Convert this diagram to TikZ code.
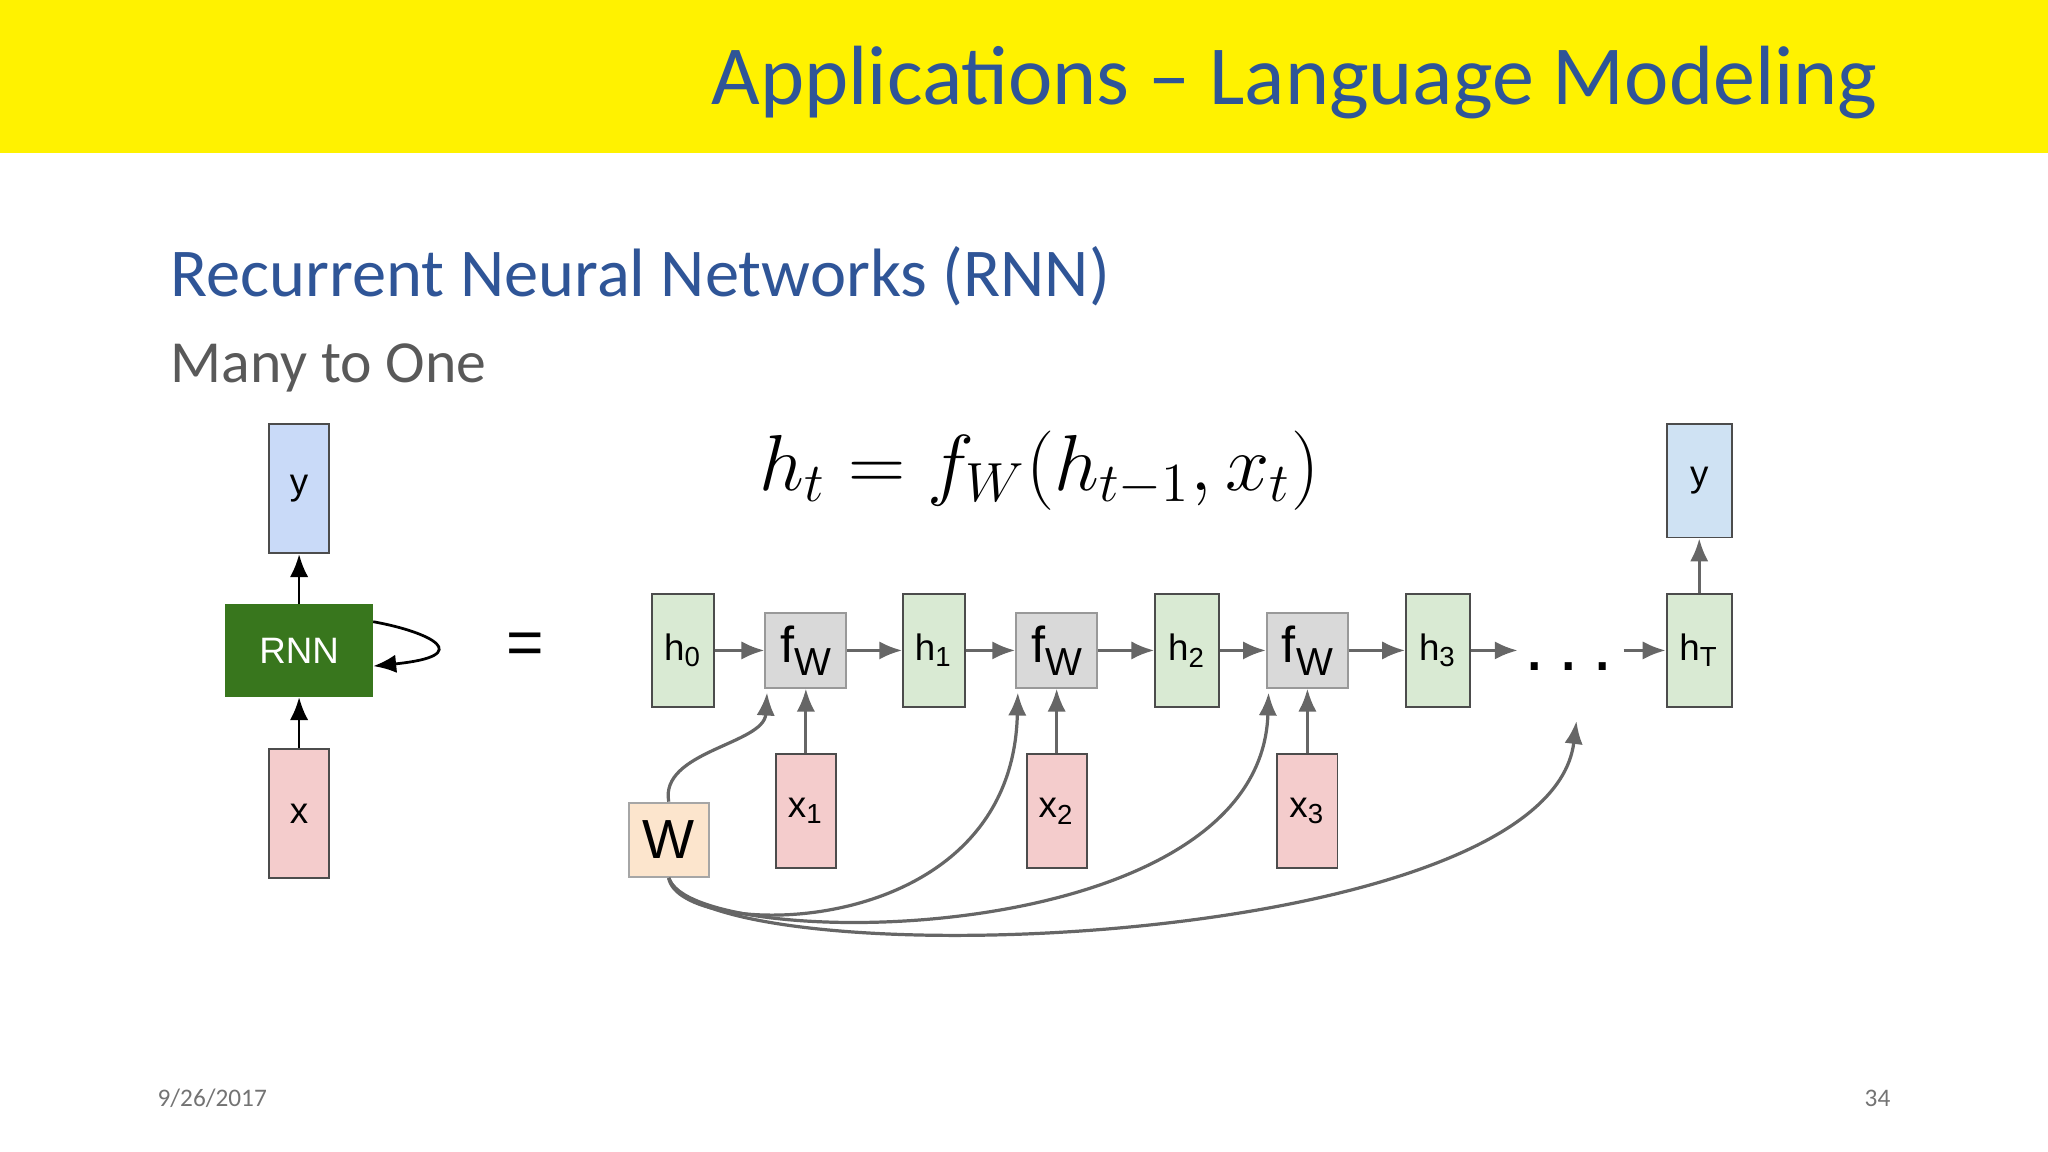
\documentclass[tikz,border=0pt]{standalone}
\usepackage{fontspec}
\setmainfont{Carlito}
\newfontfamily\diagfont{Liberation Sans}
\usetikzlibrary{positioning,arrows.meta,calc}
\definecolor{titleblue}{HTML}{2F5597}
\definecolor{hgreen}{HTML}{D9EAD3}
\definecolor{xpink}{HTML}{F4CCCC}
\definecolor{fgrey}{HTML}{D9D9D9}
\definecolor{wpeach}{HTML}{FCE5CD}
\definecolor{yblue}{HTML}{C9DAF8}
\definecolor{yblue2}{HTML}{CFE2F3}
\definecolor{rnngreen}{HTML}{38761D}
\definecolor{linegrey}{HTML}{666666}
\tikzset{
  box/.style={draw=black!70,line width=0.4pt,inner sep=0pt,font=\diagfont\fontsize{8}{9}\selectfont},
  hbox/.style={box,fill=hgreen,minimum width=0.47cm,minimum height=0.87cm},
  xbox/.style={box,fill=xpink,minimum width=0.46cm,minimum height=0.87cm},
  fbox/.style={box,fill=fgrey,draw=black!40,minimum width=0.62cm,minimum height=0.57cm},
  flow/.style={-{Latex[length=5pt,width=4pt]},linegrey,line width=0.7pt},
  wire/.style={-{Latex[length=5pt,width=4pt]},linegrey,line width=0.7pt},
}
\newcommand{\fw}{\fontsize{11}{11}\selectfont f\raisebox{-0.5ex}{\fontsize{8.5}{9}\selectfont W}}
\begin{document}
\begin{tikzpicture}[x=0.01cm,y=-0.01cm]
  \useasboundingbox (0,0) rectangle (1568,882);
  \fill[yellow] (0,0) rectangle (1568,117);
  \node[anchor=base east,text=titleblue,font=\fontsize{18.3}{22}\selectfont] (title) at (1450,80) {Applications -- Language Modeling};
  \node[anchor=base west,inner sep=0pt,text=titleblue,font=\fontsize{14.9}{18}\selectfont] (sub) at (130,227) {Recurrent Neural Networks (RNN)};
  \node[anchor=base west,inner sep=0pt,text=black!65,font=\fontsize{13}{16}\selectfont] (many) at (130,293) {Many to One};
  \node[anchor=base west,inner sep=0pt,text=black!55,font=\fontsize{5.5}{6}\selectfont] (date) at (120,847) {9/26/2017};
  \node[anchor=base east,inner sep=0pt,text=black!55,font=\fontsize{5.5}{6}\selectfont] (page) at (1448,847) {34};

  % folded network
  \node[box,fill=yblue,minimum width=0.46cm,minimum height=0.99cm] (yl) at (229,374) {y};
  \node[box,fill=rnngreen,draw=rnngreen,text=white,minimum width=1.12cm,minimum height=0.70cm] (rnn) at (229,498) {RNN};
  \node[xbox,minimum height=0.99cm] (xl) at (229,623) {x};
  \draw[-{Latex[length=5pt,width=4pt]},line width=0.6pt] (rnn) -- (yl);
  \draw[-{Latex[length=5pt,width=4pt]},line width=0.6pt] (xl) -- (rnn);
  \draw[-{Latex[length=5pt,width=4pt]},line width=0.6pt] ($(rnn.east)+(0,-22)$) .. controls (330,484) and (365,502) .. ($(rnn.east)+(0,12)$);
  \node[font=\diagfont\fontsize{14}{14}\selectfont] (eq) at (402,497) {=};

  % unrolled network
  \node[font=\fontsize{17.4}{20}\selectfont] (formula) at (796,360) {$h_t = f_W(h_{t-1}, x_t)$};
  \node[hbox] (h0) at (523,498) {h\textsubscript{0}};
  \node[fbox] (f1) at (617,498) {\fw};
  \node[hbox] (h1) at (715,498) {h\textsubscript{1}};
  \node[fbox] (f2) at (809,498) {\fw};
  \node[hbox,minimum width=0.49cm] (h2) at (909,498) {h\textsubscript{2}};
  \node[fbox] (f3) at (1001,498) {\fw};
  \node[hbox,minimum width=0.49cm] (h3) at (1101,498) {h\textsubscript{3}};
  \node[font=\diagfont\fontsize{16}{16}\selectfont] (dots) at (1201,510) {.\hspace{3pt}.\hspace{3pt}.};
  \node[hbox,minimum width=0.50cm] (hT) at (1301,498) {h\textsubscript{T}};
  \node[box,fill=yblue2,minimum width=0.50cm,minimum height=0.87cm] (yr) at (1301,368) {y};
  \node[xbox] (x1) at (617,621) {x\textsubscript{1}};
  \node[xbox] (x2) at (809,621) {x\textsubscript{2}};
  \node[xbox] (x3) at (1001,621) {x\textsubscript{3}};
  \node[box,fill=wpeach,draw=black!35,minimum width=0.61cm,minimum height=0.57cm,font=\diagfont\fontsize{12}{12}\selectfont] (W) at (512,643) {W};
  \coordinate (dotsin) at (1162,498);
  \coordinate (dotsout) at (1243,498);
  \coordinate (dotsw) at (1207,552);

  \draw[flow] (h0) -- (f1);
  \draw[flow] (f1) -- (h1);
  \draw[flow] (h1) -- (f2);
  \draw[flow] (f2) -- (h2);
  \draw[flow] (h2) -- (f3);
  \draw[flow] (f3) -- (h3);
  \draw[flow] (h3) -- (dotsin);
  \draw[flow] (dotsout) -- (hT);
  \draw[flow] (hT) -- (yr);
  \draw[flow] (x1) -- (f1);
  \draw[flow] (x2) -- (f2);
  \draw[flow] (x3) -- (f3);

  \draw[wire] (W.north) .. controls (505,575) and (585,570) .. ($(f1.south west)+(2,3)$);
  \draw[wire] (W.south) .. controls (520,720) and (775,725) .. ($(f2.south west)+(2,3)$);
  \draw[wire] (W.south) .. controls (530,730) and (965,730) .. ($(f3.south west)+(2,3)$);
  \draw[wire] (W.south) .. controls (540,750) and (1185,730) .. (dotsw);
\end{tikzpicture}
\end{document}
